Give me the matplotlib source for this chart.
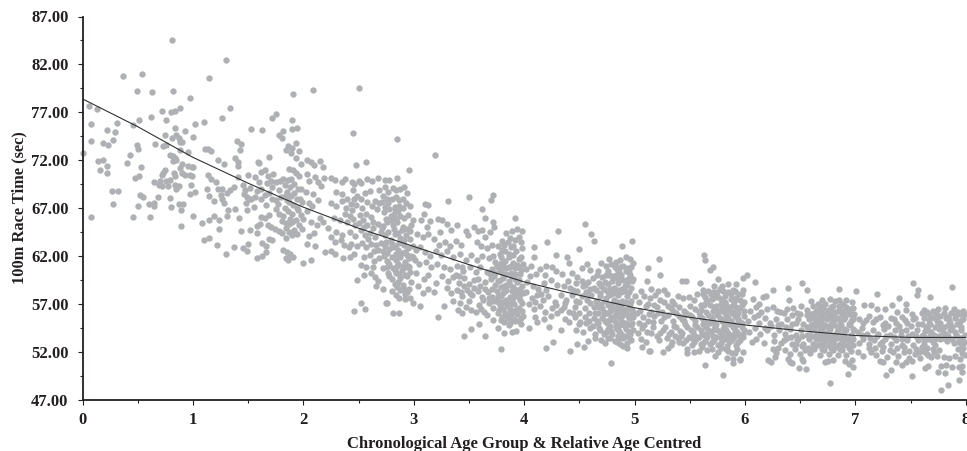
import numpy as np
import matplotlib
matplotlib.use('Agg')
import matplotlib.pyplot as plt
from matplotlib.ticker import MultipleLocator, FormatStrFormatter

# values: (age, race time)
age_0 = [(0.0,72.7),(.06,77.7),(.13,77.3),(.08,75.8),(.08,74.0),(.14,71.9),(.19,72.0),(.16,71.0),(.22,71.4),(.22,70.7),
(.19,73.8),(.23,73.6),(.22,75.2),(.29,74.9),(.28,74.1),(.31,75.9),(.27,68.8),(.32,68.8),(.28,67.4),(.08,66.1),
(.37,80.8),(.49,79.2),(.54,81.0),(.63,79.1),(.46,75.7),(.51,76.2),(.62,76.5),(.43,72.5),(.40,71.7),(.49,73.6),
(.50,73.2),(.53,71.3),(.48,70.1),(.51,70.4),(.52,68.4),(.55,68.2),(.50,67.2),(.46,66.1),(.60,67.4),(.65,67.5),
(.65,67.2),(.61,66.1),(.68,68.2),(.66,73.7),(.72,77.1),(.76,76.2),(.75,74.6),(.73,73.5),(.76,73.6),(.80,77.0),
(.84,77.1),(.88,77.4),(.81,84.5),(.82,79.2),(.97,78.5),(.84,75.4),(.81,74.3),(.85,74.6),(.87,74.3),(.90,73.9),
(.88,73.9),(.93,75.0),(1.0,74.4),(.65,69.7),(.70,69.8),(.69,69.4),(.72,69.3),(.76,69.8),(.79,69.9),(.77,69.3),
(.79,68.1),(.80,67.1),(.89,66.8),(.89,65.1),(.87,67.4),(.91,67.4),(1.0,66.2),(.97,68.5),(.98,69.4),(.84,69.4),
(.87,69.3),(.85,69.0),(.73,70.7),(.72,70.5),(.75,71.0),(.79,72.5),(.82,72.4),(.84,72.2),(.82,71.9),(.85,72.0),
(.88,71.2),(.90,71.6),(.83,70.7),(.84,70.4),(.90,70.7),(.93,70.5),(.97,70.5),(.99,70.4),(.96,72.9),(.88,73.1),
(.96,71.4),(.99,71.3),(1.0,71.3)]
age_1 = [(1.02,75.8),(1.10,76.0),(1.15,80.6),(1.26,76.4),(1.30,82.5),(1.34,77.4),(1.02,68.7),(1.08,65.4),(1.10,63.7),(1.15,63.9),
(1.22,63.1),(1.30,62.2),(1.37,62.9),(1.45,62.8),(1.49,62.5),(1.50,63.3),(1.58,61.8),(1.63,62.0),(1.66,62.4),(1.11,73.2),
(1.14,73.2),(1.16,73.0),(1.23,72.0),(1.28,71.6),(1.14,70.5),(1.16,70.0),(1.21,69.7),(1.23,69.0),(1.26,69.0),(1.13,69.0),
(1.15,68.3),(1.19,67.7),(1.25,68.4),(1.26,68.0),(1.28,67.5),(1.31,66.2),(1.32,66.8),(1.38,66.9),(1.42,66.0),(1.37,69.2),
(1.34,68.9),(1.31,68.6),(1.24,65.8),(1.15,65.8),(1.19,66.2),(1.24,64.8),(1.40,74.0),(1.44,73.7),(1.43,73.1),(1.38,72.2),
(1.41,71.8),(1.41,71.4),(1.41,70.2),(1.50,70.5),(1.45,69.4),(1.47,68.9),(1.46,68.5),(1.49,68.2),(1.51,67.9),(1.48,67.5),
(1.53,67.9),(1.55,67.1),(1.49,66.8),(1.44,64.6),(1.52,64.7),(1.53,75.3),(1.63,75.2),(1.72,76.4),(1.75,76.8),(1.59,71.8),
(1.60,71.7),(1.69,72.3),(1.56,70.2),(1.60,69.7),(1.62,70.8),(1.65,71.0),(1.68,70.3),(1.73,70.6),(1.71,69.8),(1.75,69.7),
(1.79,69.8),(1.82,70.0),(1.62,69.0),(1.65,68.4),(1.69,68.6),(1.72,68.0),(1.75,67.8),(1.78,68.9),(1.80,68.2),(1.62,67.9),
(1.66,67.3),(1.62,66.1),(1.65,66.0),(1.69,66.3),(1.75,66.9),(1.78,66.4),(1.58,65.1),(1.61,65.3),(1.58,64.4),(1.68,65.2),
(1.71,65.0),(1.74,64.8),(1.78,64.6),(1.81,64.4),(1.84,64.9),(1.84,65.4),(1.63,63.4),(1.66,63.0),(1.72,63.7),(1.69,63.8),
(1.84,63.9),(1.90,64.2),(1.94,64.3),(1.82,62.6),(1.85,62.4),(1.84,61.8),(1.86,61.6),(1.88,62.2),(1.91,61.9),(2.0,61.3),
(2.07,61.6),(1.78,74.6),(1.81,74.3),(1.86,73.5),(1.84,73.1),(1.90,73.3),(1.93,72.2),(1.98,71.6),(1.96,73.0),(1.93,73.8),
(1.91,78.9),(1.90,76.2),(1.94,75.4),(1.90,75.3),(1.82,75.1),(1.89,72.8),(1.87,71.1),(1.91,71.0),(1.93,70.7),(1.96,70.3),
(1.89,70.0),(1.92,69.5),(1.88,69.2),(1.95,69.0),(1.98,69.0),(1.85,68.7),(1.89,68.3),(1.92,68.6),(1.94,68.0),(1.99,67.6),
(1.98,66.3),(2.0,65.9),(1.93,65.8),(1.96,65.2),(1.90,65.5),(1.99,64.8)]
age_2 = [(2.09,79.3),(2.50,79.5),(2.45,74.8),(2.85,74.2),(2.48,71.5),(2.57,71.8),(2.96,71.0),(2.15,71.9),(2.18,71.3),(2.10,71.5),
(2.19,70.1),(2.03,72.0),(2.07,71.8),(2.03,70.6),(2.11,70.2),(2.13,69.7),(2.16,69.3),(2.05,69.8),(2.02,68.7),(2.09,68.5),
(2.13,67.8),(2.05,67.5),(2.08,67.2),(2.15,66.0),(2.03,66.7),(2.07,65.6),(2.12,65.2),(2.18,65.5),(2.22,64.9),(2.10,64.4),
(2.05,64.1),(2.03,63.3),(2.11,63.0),(2.20,62.4),(2.25,62.5),(2.29,62.2),(2.36,61.8),(2.42,61.9),(2.25,64.0),(2.29,63.5),
(2.34,63.7),(2.37,63.2),(2.41,62.9),(2.46,62.2),(2.46,56.3),(2.52,57.1),(2.56,56.5),(2.81,56.0),(2.87,56.1),(2.75,57.1),
(2.76,57.05),(2.99,57.1),(2.55,60.0),(2.49,59.5),(2.61,60.2),(2.65,59.8),(2.68,59.4),(2.66,58.9),(2.72,58.6),(2.77,60.2),
(2.8,59.6),(2.83,59.1),(2.88,58.4),(2.92,58.0),(2.96,58.6),(2.87,57.6),(2.92,57.5),(2.97,57.6),(2.25,70.1),(2.29,69.9),
(2.35,69.7),(2.38,70.0),(2.44,69.7),(2.46,69.5),(2.50,69.8),(2.52,69.6),(2.58,70.0),(2.62,69.8),(2.68,70.1),(2.74,69.9),
(2.78,69.9),(2.85,70.1),(2.91,69.2),(2.94,68.6),(2.30,68.7),(2.35,68.5),(2.40,68.0),(2.45,68.9),(2.49,68.3),(2.52,67.9),
(2.56,68.6),(2.60,68.8),(2.65,67.7),(2.69,68.9),(2.72,68.3),(2.76,68.0),(2.80,67.9),(2.84,68.2),(2.87,67.8),(2.90,68.0),
(2.93,67.5),(2.97,67.2),(2.25,67.5),(2.30,67.2),(2.35,67.7),(2.39,67.0),(2.44,66.8),(2.48,67.3),(2.53,67.0),(2.57,66.4),
(2.62,67.2),(2.67,66.9),(2.73,66.6),(2.78,66.9),(2.82,66.4),(2.86,66.7),(2.91,66.0),(2.95,66.3),(2.99,65.8),(2.28,66.0),
(2.33,65.8),(2.40,65.5),(2.45,65.9),(2.50,65.4),(2.54,65.8),(2.58,65.2),(2.63,65.6),(2.68,65.3),(2.72,65.1),(2.76,65.6),
(2.81,65.2),(2.85,65.5),(2.90,65.0),(2.94,64.8),(2.98,65.2),(2.30,64.5),(2.35,64.2),(2.42,64.5),(2.47,64.1),(2.52,64.7),
(2.56,64.2),(2.60,64.4),(2.65,64.0),(2.70,64.5),(2.74,64.2),(2.79,63.7),(2.83,64.3),(2.88,63.9),(2.93,64.2),(2.97,63.8),
(2.43,63.3),(2.49,63.0),(2.53,63.4),(2.57,62.9),(2.61,63.3),(2.66,63.1),(2.70,63.4),(2.74,63.0),(2.78,62.7),(2.83,63.0),
(2.86,62.6),(2.91,63.1),(2.95,62.8),(2.99,63.0),(2.55,61.9),(2.60,62.1),(2.64,61.5),(2.69,61.8),(2.73,62.0),(2.76,61.5),
(2.80,61.9),(2.84,61.6),(2.88,61.9),(2.92,61.4),(2.96,61.8),(2.99,61.9),(2.52,61.1),(2.57,60.8),(2.63,60.9),(2.72,60.7),
(2.76,60.9),(2.81,60.7),(2.85,61.0),(2.89,60.5),(2.93,60.9),(2.97,60.3),(2.84,60.2),(2.78,59.9),(2.88,59.7),(2.94,59.9),
(2.98,59.3),(2.85,58.8),(2.90,59.0),(2.94,58.2),(2.80,58.3),(2.84,57.9)]
age_3 = [(3.19,72.5),(3.31,67.7),(3.5,68.2),(3.72,68.4),(3.70,67.8),(3.62,66.9),(3.65,66.0),(3.92,66.0),(3.72,65.6),(3.06,56.8),
(3.22,55.6),(3.27,56.8),(3.46,53.7),(3.52,54.4),(3.59,54.9),(3.65,53.6),(3.72,55.3),(3.79,52.3),(3.76,54.5),(3.82,54.0),
(3.89,54.1),(3.93,54.2),(3.10,67.4),(3.13,67.3),(3.09,66.4),(3.07,65.8),(3.15,65.7),(3.12,65.0),(3.22,65.9),(3.26,65.8),
(3.30,65.3),(3.24,64.5),(3.34,64.7),(3.39,65.2),(3.47,64.6),(3.49,64.2),(3.55,65.0),(3.58,64.6),(3.62,64.7),(3.65,64.0),
(3.69,64.5),(3.73,65.0),(3.84,64.4),(3.89,64.6),(3.94,64.8),(3.98,64.6),(3.87,63.9),(3.92,63.7),(3.97,63.5),(3.82,63.2),
(3.03,64.3),(3.08,64.0),(3.13,64.3),(3.18,63.8),(3.23,63.2),(3.28,63.5),(3.33,63.0),(3.38,63.6),(3.43,63.2),(3.57,63.5),
(3.61,63.0),(3.66,62.8),(3.71,63.2),(3.76,63.0),(3.80,62.6),(3.88,62.9),(3.93,62.5),(3.98,62.8),(3.02,62.6),(3.06,62.9),
(3.10,62.4),(3.15,62.0),(3.20,62.5),(3.25,62.1),(3.30,62.5),(3.36,61.9),(3.42,62.2),(3.47,61.6),(3.52,62.1),(3.57,61.6),
(3.62,62.0),(3.68,61.8),(3.74,61.4),(3.79,61.9),(3.83,61.5),(3.86,61.9),(3.90,61.3),(3.95,61.7),(3.99,61.2),(3.01,61.6),
(3.05,61.2),(3.11,61.4),(3.16,60.8),(3.21,61.2),(3.27,60.8),(3.33,60.6),(3.39,61.0),(3.45,60.4),(3.51,60.9),(3.56,60.3),
(3.60,60.8),(3.66,60.3),(3.71,60.6),(3.76,60.9),(3.80,60.2),(3.84,60.7),(3.88,60.2),(3.92,60.7),(3.96,60.1),(3.02,60.2),
(3.09,59.6),(3.13,60.0),(3.20,59.2),(3.26,59.9),(3.31,59.4),(3.36,59.8),(3.41,59.2),(3.46,59.7),(3.50,59.1),(3.55,59.5),
(3.60,58.9),(3.65,59.3),(3.70,59.6),(3.74,59.0),(3.78,59.5),(3.82,58.9),(3.86,59.4),(3.90,58.8),(3.94,59.3),(3.98,58.9),
(3.04,58.9),(3.08,58.1),(3.13,58.6),(3.18,58.2),(3.30,58.7),(3.34,58.1),(3.39,58.5),(3.44,57.8),(3.48,58.4),(3.53,57.9),
(3.58,58.3),(3.62,57.7),(3.67,58.2),(3.71,57.7),(3.75,58.3),(3.79,57.8),(3.83,58.3),(3.87,57.7),(3.91,58.2),(3.95,57.7),
(3.99,58.1),(3.36,57.3),(3.42,57.1),(3.47,56.7),(3.52,56.4),(3.59,56.9),(3.64,56.2),(3.68,57.1),(3.72,56.6),(3.76,57.2),
(3.79,56.6),(3.83,57.1),(3.87,56.5),(3.91,57.0),(3.95,56.6),(3.98,57.1),(3.76,56.0),(3.80,55.6),(3.83,56.1),(3.85,55.5),
(3.88,55.9),(3.91,55.4),(3.94,55.9),(3.97,55.5),(3.82,55.1),(3.87,55.0),(3.92,55.2),(3.66,55.8),(3.44,56.0),(3.40,56.4)]
age_4 = [(4.31,64.6),(4.55,65.3),(4.61,64.3),(4.63,63.6),(4.98,63.6),(4.89,63.0),(4.21,63.5),(4.09,62.9),(4.29,62.1),(4.5,62.7),
(4.04,54.5),(4.12,55.1),(4.23,54.6),(4.2,52.4),(4.26,53.0),(4.33,54.3),(4.42,52.1),(4.48,52.8),(4.54,52.5),(4.79,50.8),
(4.93,52.4),(4.02,60.6),(4.06,61.0),(4.09,61.9),(4.11,60.1),(4.14,60.6),(4.19,60.0),(4.2,61.0),(4.25,60.9),(4.29,60.4),
(4.34,60.1),(4.39,61.9),(4.41,61.3),(4.43,60.2),(4.48,59.8),(4.52,60.7),(4.57,61.2),(4.60,60.5),(4.66,60.0),(4.70,61.3),
(4.74,61.0),(4.79,61.2),(4.83,61.4),(4.87,61.6),(4.92,61.9),(4.96,61.7),(4.99,61.3),(4.76,60.4),(4.8,59.9),(4.84,60.6),
(4.88,60.0),(4.92,60.4),(4.96,60.0),(4.03,59.3),(4.08,58.9),(4.13,58.6),(4.18,59.2),(4.24,59.5),(4.30,59.0),(4.36,58.9),
(4.42,58.7),(4.47,59.2),(4.53,58.9),(4.58,59.3),(4.63,58.7),(4.68,59.2),(4.72,58.6),(4.76,59.1),(4.81,58.7),(4.85,59.2),
(4.89,58.6),(4.93,59.1),(4.97,58.7),(4.02,58.2),(4.07,57.6),(4.12,57.9),(4.17,57.4),(4.22,57.8),(4.28,57.2),(4.33,57.9),
(4.38,57.4),(4.43,57.9),(4.47,57.3),(4.52,57.8),(4.57,57.4),(4.61,57.9),(4.65,57.3),(4.69,57.8),(4.73,57.3),(4.77,57.9),
(4.81,57.4),(4.85,57.9),(4.89,57.3),(4.93,57.8),(4.97,57.3),(5.0,57.8),(4.04,57.0),(4.09,56.5),(4.14,56.8),(4.19,56.2),
(4.25,56.6),(4.30,56.1),(4.36,56.7),(4.41,56.2),(4.46,56.7),(4.50,56.1),(4.55,56.6),(4.59,56.1),(4.63,56.7),(4.67,56.1),
(4.71,56.6),(4.75,56.1),(4.79,56.6),(4.83,56.1),(4.87,56.6),(4.91,56.1),(4.95,56.6),(4.99,56.1),(4.10,55.6),(4.18,55.4),
(4.24,55.7),(4.37,55.4),(4.41,55.1),(4.46,55.6),(4.51,55.1),(4.55,55.6),(4.59,55.2),(4.63,55.5),(4.67,55.0),(4.71,55.5),
(4.75,55.0),(4.79,55.6),(4.83,55.0),(4.87,55.5),(4.91,55.0),(4.95,55.5),(4.98,55.0),(4.47,54.3),(4.53,54.1),(4.60,54.5),
(4.64,53.9),(4.68,54.5),(4.72,53.9),(4.76,54.4),(4.80,53.9),(4.84,54.4),(4.88,53.9),(4.92,54.4),(4.96,53.9),(4.99,54.3),
(4.64,53.4),(4.70,53.2),(4.73,52.9),(4.78,53.4),(4.84,53.0),(4.87,52.8),(4.90,53.4),(4.93,52.9),(4.97,53.2),(4.58,53.1)]
age_5 = [(5.07,52.5),(5.13,52.1),(5.63,62.1),(5.64,61.6),(5.22,61.65),(5.12,60.7),(5.23,60.05),(5.68,60.5),(5.71,60.8),(5.43,59.4),
(5.47,59.4),(5.59,59.2),(5.98,59.7),(5.64,50.6),(5.8,49.6),(5.89,50.8),(5.96,51.15),(5.14,52.1),(5.26,52.0),(5.48,51.85),
(5.11,59.4),(5.15,58.6),(5.21,58.3),(5.27,58.5),(5.06,58.3),(5.09,57.8),(5.14,57.6),(5.19,57.9),(5.23,57.4),(5.29,58.0),
(5.34,57.3),(5.39,57.8),(5.44,57.6),(5.49,57.7),(5.54,57.4),(5.57,58.0),(5.62,58.4),(5.67,58.3),(5.72,58.9),(5.76,59.6),
(5.77,58.6),(5.79,58.9),(5.85,59.1),(5.92,59.1),(5.91,58.3),(5.97,58.0),(5.87,58.0),(5.82,57.8),(5.76,57.7),(5.70,57.5),
(5.65,57.2),(5.60,56.9),(5.55,56.5),(5.50,56.8),(5.45,56.3),(5.40,56.7),(5.35,56.3),(5.30,56.8),(5.25,56.2),(5.20,56.7),
(5.15,56.2),(5.10,56.8),(5.05,56.3),(5.72,56.7),(5.78,57.0),(5.84,56.7),(5.90,57.2),(5.95,56.6),(5.99,57.2),(5.08,55.6),
(5.12,55.2),(5.18,55.7),(5.24,55.2),(5.30,55.8),(5.35,55.2),(5.40,55.7),(5.45,55.2),(5.50,55.8),(5.55,55.2),(5.59,55.7),
(5.63,55.2),(5.67,55.8),(5.71,55.2),(5.75,55.8),(5.79,55.2),(5.83,55.8),(5.87,55.2),(5.91,55.7),(5.95,55.2),(5.99,55.7),
(5.07,54.5),(5.11,54.1),(5.17,54.6),(5.23,54.0),(5.28,54.6),(5.33,54.1),(5.38,54.6),(5.43,54.0),(5.48,54.6),(5.53,54.1),
(5.57,54.6),(5.61,54.0),(5.65,54.6),(5.69,54.1),(5.73,54.7),(5.77,54.1),(5.81,54.6),(5.85,54.0),(5.89,54.6),(5.93,54.1),
(5.97,54.6),(5.06,53.3),(5.10,53.0),(5.22,53.2),(5.29,53.4),(5.34,53.0),(5.39,53.4),(5.44,52.9),(5.49,53.5),(5.54,53.0),
(5.58,53.5),(5.62,52.9),(5.66,53.5),(5.70,53.0),(5.74,53.5),(5.78,52.9),(5.82,53.5),(5.86,53.0),(5.90,53.5),(5.94,53.0),
(5.98,53.5),(5.30,52.4),(5.33,52.7),(5.48,52.3),(5.54,52.0),(5.58,52.1),(5.61,52.5),(5.70,52.3),(5.76,52.0),(5.73,51.6),
(5.83,52.3),(5.88,51.9),(5.93,52.3),(5.98,52.0),(5.84,51.4),(5.89,51.2),(5.96,51.3)]
age_6 = [(6.09,59.25),(6.02,60.0),(6.52,59.15),(6.39,58.7),(6.56,58.45),(6.85,58.6),(6.25,58.4),(6.21,51.1),(6.24,50.9),(6.43,50.8),
(6.49,50.3),(6.55,50.2),(6.77,48.7),(6.93,49.7),(6.98,50.4),(6.07,57.5),(6.13,57.0),(6.16,57.7),(6.19,57.8),(6.05,56.3),
(6.10,56.7),(6.15,56.2),(6.20,56.5),(6.25,56.7),(6.29,56.3),(6.35,56.1),(6.40,57.4),(6.44,56.6),(6.47,56.1),(6.51,56.8),
(6.56,56.4),(6.60,57.3),(6.66,57.0),(6.70,57.4),(6.73,57.0),(6.77,57.5),(6.82,57.3),(6.85,57.4),(6.89,56.9),(6.92,57.4),
(6.97,57.2),(6.80,56.8),(6.76,56.4),(6.71,56.1),(6.63,56.0),(6.84,56.3),(6.90,56.1),(6.95,56.5),(6.99,55.9),(6.03,55.2),
(6.08,55.6),(6.13,55.0),(6.18,55.5),(6.23,55.0),(6.28,55.4),(6.33,54.9),(6.38,55.4),(6.43,54.9),(6.48,55.4),(6.53,54.9),
(6.58,55.4),(6.62,54.9),(6.66,55.4),(6.70,54.9),(6.74,55.4),(6.78,54.9),(6.82,55.4),(6.86,54.9),(6.90,55.4),(6.94,54.9),
(6.98,55.4),(6.04,54.1),(6.09,54.5),(6.14,53.9),(6.20,54.3),(6.26,53.8),(6.31,54.3),(6.36,53.9),(6.41,54.4),(6.46,53.8),
(6.51,54.3),(6.56,53.8),(6.60,54.3),(6.64,53.8),(6.68,54.3),(6.72,53.8),(6.76,54.3),(6.80,53.8),(6.84,54.3),(6.88,53.8),
(6.92,54.3),(6.96,53.8),(6.99,54.3),(6.06,53.0),(6.10,53.3),(6.17,52.9),(6.26,53.1),(6.33,52.9),(6.38,53.4),(6.43,52.8),
(6.48,53.3),(6.53,52.8),(6.58,53.3),(6.62,52.8),(6.66,53.3),(6.70,52.8),(6.74,53.3),(6.78,52.8),(6.82,53.3),(6.86,52.8),
(6.90,53.3),(6.94,52.8),(6.98,53.3),(6.25,52.3),(6.28,51.9),(6.30,52.4),(6.27,51.5),(6.36,52.2),(6.41,51.8),(6.45,52.3),
(6.50,51.8),(6.54,52.2),(6.59,51.9),(6.63,52.3),(6.68,51.7),(6.72,52.2),(6.76,51.8),(6.80,52.2),(6.84,51.7),(6.88,52.2),
(6.92,51.7),(6.96,52.1),(6.39,51.3),(6.41,50.9),(6.52,51.2),(6.53,51.0),(6.73,50.9),(6.75,51.0),(6.80,51.1),(6.91,51.0),
(6.94,50.7),(6.97,51.1)]
age_7 = [(7.01,58.3),(7.2,58.07),(7.52,59.2),(7.57,58.4),(7.88,58.75),(7.68,57.75),(7.4,57.65),(7.28,49.55),(7.32,50.05),(7.51,49.5),
(7.63,50.3),(7.78,48.0),(7.84,48.5),(7.94,49.05),(7.97,49.9),(7.75,49.9),(7.81,49.8),(7.08,56.9),(7.14,56.9),(7.20,56.5),
(7.27,56.5),(7.33,56.9),(7.38,56.2),(7.46,57.0),(7.46,56.4),(7.51,55.9),(7.56,57.9),(7.60,56.0),(7.65,56.2),(7.70,56.3),
(7.75,56.5),(7.81,56.6),(7.89,56.5),(7.93,56.2),(7.98,56.3),(7.03,55.4),(7.07,55.0),(7.12,55.7),(7.16,55.1),(7.22,55.6),
(7.27,55.0),(7.32,55.5),(7.37,55.0),(7.42,55.6),(7.47,55.0),(7.52,55.4),(7.57,54.9),(7.62,55.5),(7.67,54.9),(7.72,55.5),
(7.77,55.0),(7.82,55.5),(7.86,55.0),(7.90,55.5),(7.94,54.9),(7.98,55.4),(7.02,54.1),(7.06,54.5),(7.11,53.9),(7.16,54.3),
(7.21,53.9),(7.26,54.4),(7.31,53.8),(7.36,54.3),(7.41,53.8),(7.46,54.3),(7.51,53.9),(7.56,54.3),(7.61,53.8),(7.66,54.3),
(7.71,53.8),(7.76,54.4),(7.81,53.9),(7.86,54.3),(7.91,53.8),(7.96,54.3),(7.99,53.8),(7.03,52.9),(7.07,53.3),(7.12,52.8),
(7.17,53.2),(7.22,52.8),(7.27,53.3),(7.32,52.8),(7.37,53.2),(7.42,52.7),(7.47,53.2),(7.52,52.7),(7.57,53.2),(7.62,52.8),
(7.67,53.3),(7.72,52.7),(7.77,53.3),(7.93,53.0),(7.97,52.7),(7.02,52.0),(7.07,51.6),(7.14,52.0),(7.19,51.7),(7.24,52.1),
(7.29,51.5),(7.34,52.0),(7.39,51.6),(7.44,52.0),(7.49,51.4),(7.54,51.8),(7.59,51.4),(7.64,51.9),(7.69,51.5),(7.74,51.6),
(7.80,51.5),(7.85,51.4),(7.90,51.6),(7.95,51.3),(7.99,51.7),(7.22,51.0),(7.25,50.9),(7.37,50.9),(7.42,50.6),(7.46,50.9),
(7.51,51.0),(7.66,50.5),(7.78,50.5),(7.82,50.6),(7.88,50.4),(7.94,50.4),(7.97,50.5)]

# the thick clouds just below each whole age
cloud_1 = [(1.83,69.4),(1.86,69.9),(1.84,68.4),(1.87,67.6),(1.91,67.3),(1.86,66.7),(1.95,66.8),(1.83,67.0),(1.77,67.4),(1.72,69.2),
(1.67,69.6),(1.58,68.8),(1.56,68.2),(1.52,69.1),(1.94,67.0),(1.97,67.9),(1.81,65.7),(1.87,65.3),(1.92,64.7),(1.87,64.5)]
cloud_2 = [(2.71,67.6),(2.74,67.1),(2.77,67.5),(2.79,66.2),(2.83,67.1),(2.75,65.9),(2.87,67.2),(2.84,68.9),(2.81,69.1),(2.77,68.7),
(2.88,69.0),(2.74,69.2),(2.71,64.9),(2.77,64.5),(2.82,64.8),(2.86,64.4),(2.75,63.5),(2.80,63.3),(2.84,62.2),(2.87,63.4),
(2.89,62.3),(2.78,61.2),(2.83,60.5),(2.87,60.1),(2.92,60.0),(2.86,59.3),(2.91,58.6),(2.95,61.0),(2.94,62.1),(2.90,61.0),
(2.68,62.6),(2.72,62.5),(2.64,62.5),(2.59,63.8),(2.63,64.9),(2.55,65.0),(2.47,65.2),(2.42,66.2),(2.51,66.3),(2.38,66.4),
(2.98,62.0),(2.97,64.6),(2.96,60.9),(2.91,63.7),(2.69,67.5),(2.58,67.6),(2.61,66.1),(2.46,68.0),(2.43,67.4)]
cloud_3 = [(3.72,62.0),(3.75,61.0),(3.78,60.4),(3.81,61.1),(3.84,60.1),(3.86,60.8),(3.89,59.9),(3.92,60.1),(3.95,59.5),(3.97,60.5),
(3.73,59.9),(3.76,59.4),(3.79,58.8),(3.81,59.7),(3.84,58.4),(3.87,59.0),(3.89,58.3),(3.92,59.6),(3.94,58.5),(3.97,58.2),
(3.71,58.6),(3.73,57.3),(3.76,57.8),(3.78,56.9),(3.81,58.1),(3.84,57.4),(3.86,57.0),(3.88,56.2),(3.90,57.6),(3.93,56.4),
(3.96,57.4),(3.98,56.3),(3.77,56.4),(3.79,55.3),(3.81,56.5),(3.84,55.8),(3.86,54.8),(3.89,55.3),(3.92,56.3),(3.95,55.2),
(3.97,54.9),(3.99,55.7),(3.83,62.5),(3.86,62.2),(3.90,62.1),(3.94,61.1),(3.97,61.9),(3.78,62.2),(3.81,60.9),(3.69,60.1),
(3.65,58.6),(3.63,57.4),(3.68,57.6),(3.58,59.6),(3.55,58.7),(3.51,58.1),(3.46,58.9),(3.44,60.8),(3.41,59.9),(3.56,56.2),
(3.61,56.5),(3.50,57.3),(3.43,58.2),(3.38,60.0),(3.90,63.0),(3.85,63.5),(3.95,64.0),(3.80,63.6)]
cloud_4 = [(4.52,59.4),(4.56,58.2),(4.60,58.6),(4.62,59.7),(4.65,58.4),(4.67,60.4),(4.69,58.1),(4.71,59.8),(4.73,59.3),(4.75,58.3),
(4.77,60.0),(4.78,58.6),(4.80,59.4),(4.82,58.1),(4.83,60.0),(4.85,58.5),(4.86,59.6),(4.88,58.2),(4.90,59.5),(4.91,58.3),
(4.94,59.6),(4.95,58.2),(4.98,59.4),(4.66,57.1),(4.68,56.7),(4.70,57.0),(4.72,56.2),(4.74,57.6),(4.76,56.9),(4.78,56.3),
(4.80,57.0),(4.82,56.5),(4.84,57.2),(4.86,56.2),(4.88,57.0),(4.90,56.5),(4.92,57.2),(4.94,55.8),(4.96,57.0),(4.98,56.4),
(4.56,55.0),(4.62,54.7),(4.66,55.2),(4.69,54.3),(4.73,55.2),(4.76,53.4),(4.78,54.7),(4.81,55.3),(4.83,54.6),(4.85,53.6),
(4.87,54.8),(4.89,55.1),(4.91,53.6),(4.93,54.9),(4.95,54.1),(4.97,54.8),(4.82,53.1),(4.86,53.4),(4.95,53.5),(4.90,52.6),
(4.48,58.3),(4.44,58.5),(4.40,59.4),(4.37,57.1),(4.33,56.4),(4.29,56.9),(4.50,57.2),(4.55,59.0),(4.44,56.0),(4.50,54.9),
(4.77,61.7),(4.82,60.9),(4.86,60.3),(4.90,61.0),(4.94,60.7),(4.97,60.9),(4.15,58.0),(4.10,57.2),(4.20,58.4),(4.05,59.9)]
cloud_5 = [(5.62,58.0),(5.66,57.4),(5.69,58.0),(5.73,57.7),(5.75,58.2),(5.78,57.5),(5.80,58.3),(5.82,57.2),(5.85,58.2),(5.87,57.5),
(5.89,58.4),(5.92,57.6),(5.94,58.0),(5.96,57.4),(5.98,58.5),(5.60,56.4),(5.63,56.9),(5.65,56.2),(5.68,56.9),(5.71,56.3),
(5.74,56.8),(5.76,56.3),(5.79,56.6),(5.81,56.2),(5.83,56.9),(5.86,56.4),(5.88,56.8),(5.90,56.2),(5.92,56.7),(5.94,56.1),
(5.97,56.9),(5.99,56.3),(5.61,55.5),(5.65,55.0),(5.69,55.4),(5.73,55.0),(5.77,55.5),(5.81,55.0),(5.85,55.5),(5.89,54.9),
(5.93,55.5),(5.97,55.0),(5.60,54.3),(5.63,53.8),(5.67,54.3),(5.71,53.7),(5.75,54.3),(5.79,53.8),(5.83,54.3),(5.87,53.7),
(5.91,54.3),(5.95,53.8),(5.99,54.3),(5.56,53.3),(5.60,52.8),(5.64,53.1),(5.68,52.8),(5.72,53.2),(5.76,52.7),(5.80,53.2),
(5.84,52.6),(5.88,53.2),(5.92,52.7),(5.96,53.2),(5.66,52.2),(5.78,52.4),(5.85,52.1),(5.91,51.9),(5.21,56.0),(5.27,55.6),
(5.33,56.6),(5.38,56.0),(5.43,55.4),(5.47,56.1),(5.52,55.6),(5.36,54.7),(5.41,54.2),(5.46,54.9),(5.51,54.3),(5.55,53.7),
(5.26,54.3),(5.31,53.9),(5.37,53.6),(5.42,53.7),(5.47,53.2),(5.52,52.7),(5.13,55.9),(5.17,55.1),(5.09,54.8),(5.15,54.0),
(5.20,53.7),(5.04,55.0),(5.03,54.0),(5.02,56.0),(5.04,57.2),(5.12,57.0),(5.18,56.9),(5.27,57.2),(5.36,57.0)]
cloud_6 = [(6.62,56.8),(6.65,56.4),(6.68,56.8),(6.71,56.6),(6.74,56.3),(6.78,56.7),(6.81,56.2),(6.85,56.8),(6.88,56.3),(6.92,56.7),
(6.95,56.1),(6.98,56.6),(6.60,55.9),(6.63,55.5),(6.67,55.9),(6.70,55.5),(6.74,55.9),(6.77,55.6),(6.81,55.9),(6.84,55.5),
(6.88,55.9),(6.91,55.6),(6.95,55.9),(6.98,55.6),(6.60,54.8),(6.63,54.4),(6.66,54.8),(6.70,54.4),(6.73,54.8),(6.77,54.4),
(6.81,54.8),(6.84,54.4),(6.87,54.8),(6.91,54.4),(6.95,54.8),(6.98,54.4),(6.60,53.6),(6.64,53.3),(6.67,53.7),(6.71,53.3),
(6.75,53.7),(6.78,53.3),(6.82,53.7),(6.86,53.4),(6.90,53.7),(6.93,53.3),(6.97,53.7),(6.62,52.4),(6.66,52.7),(6.70,52.3),
(6.74,52.7),(6.78,52.4),(6.82,52.7),(6.86,52.3),(6.90,52.7),(6.94,52.4),(6.98,52.7),(6.32,56.2),(6.38,56.5),(6.43,55.8),
(6.50,55.9),(6.56,55.8),(6.12,55.8),(6.18,54.5),(6.24,54.7),(6.30,54.8),(6.42,53.5),(6.47,53.2),(6.52,53.7),(6.56,54.6),
(6.46,52.8),(6.52,52.6),(6.57,52.4),(6.35,53.2),(6.46,55.0),(6.37,54.6)]
cloud_7 = [(7.62,56.4),(7.66,55.9),(7.69,55.6),(7.73,56.0),(7.77,55.7),(7.80,56.0),(7.84,55.6),(7.87,56.1),(7.91,55.8),(7.95,55.9),
(7.99,55.9),(7.60,54.9),(7.64,54.6),(7.68,54.9),(7.72,54.6),(7.76,54.9),(7.80,54.6),(7.84,54.8),(7.88,54.6),(7.92,54.9),
(7.96,54.6),(7.60,53.6),(7.64,53.4),(7.68,53.7),(7.72,53.3),(7.76,53.7),(7.80,53.4),(7.84,53.7),(7.88,53.3),(7.92,53.6),
(7.96,53.4),(7.99,53.0),(7.60,52.5),(7.65,52.4),(7.70,52.3),(7.61,52.1),(7.66,51.7),(7.71,52.0),(7.76,52.2),(7.93,52.3),
(7.97,51.9),(7.98,52.4),(7.10,55.3),(7.19,55.4),(7.25,54.8),(7.30,54.7),(7.35,55.4),(7.40,54.7),(7.45,55.3),(7.50,54.7),
(7.54,55.5),(7.06,53.8),(7.13,53.4),(7.20,53.6),(7.28,53.6),(7.35,53.5),(7.42,53.3),(7.48,53.7),(7.55,53.6),(7.12,52.4),
(7.18,52.4),(7.25,52.5),(7.31,52.2),(7.38,52.4),(7.44,52.5),(7.49,52.1),(7.55,52.3),(7.58,52.0)]
# gaps left between the rows above
cloud_fill = [(5.62,54.9),(5.68,55.0),(5.74,54.9),(5.80,54.4),(5.86,54.9),(5.92,54.8),(5.98,53.9),(5.66,53.9),(5.72,54.4),(5.78,53.4),
(5.84,53.4),(5.90,53.9),(5.96,54.9),(5.70,55.6),(5.76,56.0),(5.82,55.4),(5.88,56.0),(5.94,55.4),(5.64,57.7),(5.71,58.2),
(5.58,56.2),(5.55,54.8),(5.52,53.4),(5.46,55.8),(5.40,53.0),(6.64,55.0),(6.69,55.2),(6.75,54.6),(6.80,55.2),(6.85,54.6),
(6.90,54.2),(6.96,55.2),(6.66,53.9),(6.72,54.0),(6.79,53.0),(6.83,54.1),(6.89,53.1),(6.95,53.1),(6.68,56.2),(6.79,56.0),
(6.86,55.2),(6.93,56.3),(6.72,52.9),(6.83,52.5),(6.88,57.0),(7.63,54.2),(7.69,54.1),(7.74,55.2),(7.79,54.1),(7.85,55.3),
(7.90,54.1),(7.95,55.2),(7.97,53.2),(7.67,55.3),(7.62,53.1),(7.70,53.0),(7.83,53.1),(7.89,52.9),(7.41,54.2),(7.24,53.0),
(4.70,58.9),(4.74,60.0),(4.79,58.0),(4.84,59.7),(4.87,60.8),(4.91,58.9),(4.95,60.3),(4.99,59.6),(4.72,55.9),(4.77,55.3),
(4.82,55.7),(4.85,56.8),(4.89,55.7),(4.92,56.4),(4.96,55.8),(4.99,55.6),(4.74,54.1),(4.79,54.2),(4.86,54.2),(4.91,54.7),
(4.60,57.1),(4.64,56.0),(4.58,58.0),(3.74,60.2),(3.79,61.3),(3.84,59.0),(3.88,61.0),(3.91,58.5),(3.95,60.8),(3.75,57.4),
(3.80,57.2),(3.85,56.8),(3.89,57.2),(3.93,57.9),(3.96,58.6),(2.76,62.3),(2.81,62.9),(2.86,61.2),(2.89,64.7),(2.92,62.4),
(2.79,65.8),(2.84,65.9),(2.88,66.2),(2.83,66.9),(2.90,67.0),(1.85,67.8),(1.90,66.4),(1.88,65.9),(1.82,66.2)]

all_points = np.array(age_0 + age_1 + age_2 + age_3 + age_4 + age_5 + age_6 + age_7
                      + cloud_1 + cloud_2 + cloud_3 + cloud_4 + cloud_5 + cloud_6 + cloud_7 + cloud_fill)

# fitted curve
trend_x = [0, .5, 1, 1.5, 2, 2.5, 3, 3.5, 4, 4.5, 5, 5.5, 6, 6.5, 7, 7.5, 8]
trend_y = [78.4, 75.5, 72.3, 69.6, 67.1, 64.9, 63.0, 61.1, 59.3, 57.9, 56.6, 55.6, 54.8, 54.2, 53.7, 53.5, 53.5]
y_ticks = [47, 52, 57, 62, 67, 72, 77, 82, 87]
y_minor = [49.5, 54.5, 59.5, 64.5, 69.5, 74.5, 79.5, 84.5]

plt.rcParams['font.family'] = ['Liberation Serif', 'DejaVu Serif']
plt.rcParams['font.weight'] = 'bold'

dark = '#231f20'
fig = plt.figure(figsize=(9.67, 4.51), dpi=100)
ax = fig.add_axes([82.5/967, 1 - 399.7/451, (965.7-82.5)/967, (399.7-16.5)/451])

ax.scatter(all_points[:, 0], all_points[:, 1], s=21, color='#aeb0b3', linewidths=0, clip_on=False, zorder=2)
ax.plot(trend_x, trend_y, color='#333132', lw=0.8, zorder=3)

ax.set_xlim(0, 8)
ax.set_ylim(47, 87)
ax.xaxis.set_major_locator(MultipleLocator(1))
ax.xaxis.set_minor_locator(MultipleLocator(0.5))
ax.set_yticks(y_ticks)
ax.set_yticks(y_minor, minor=True)
ax.yaxis.set_major_formatter(FormatStrFormatter('%.2f'))

for side in ['top', 'right']:
    ax.spines[side].set_visible(False)
for side in ['left', 'bottom']:
    ax.spines[side].set_linewidth(1.3)
    ax.spines[side].set_color(dark)

ax.tick_params(which='major', length=3.5, width=0.8, color=dark, labelsize=12, labelcolor=dark)
ax.tick_params(which='minor', length=2, width=0.8, color=dark)
ax.tick_params(axis='y', which='major', pad=6.5)
ax.tick_params(axis='x', which='major', pad=5)

ax.set_xlabel('Chronological Age Group & Relative Age Centred', fontsize=12, fontweight='bold', color=dark, labelpad=6)
ax.set_ylabel('100m Race Time (sec)', fontsize=11.8, fontweight='bold', color=dark, labelpad=3)

fig.savefig('out.png', dpi=100)
